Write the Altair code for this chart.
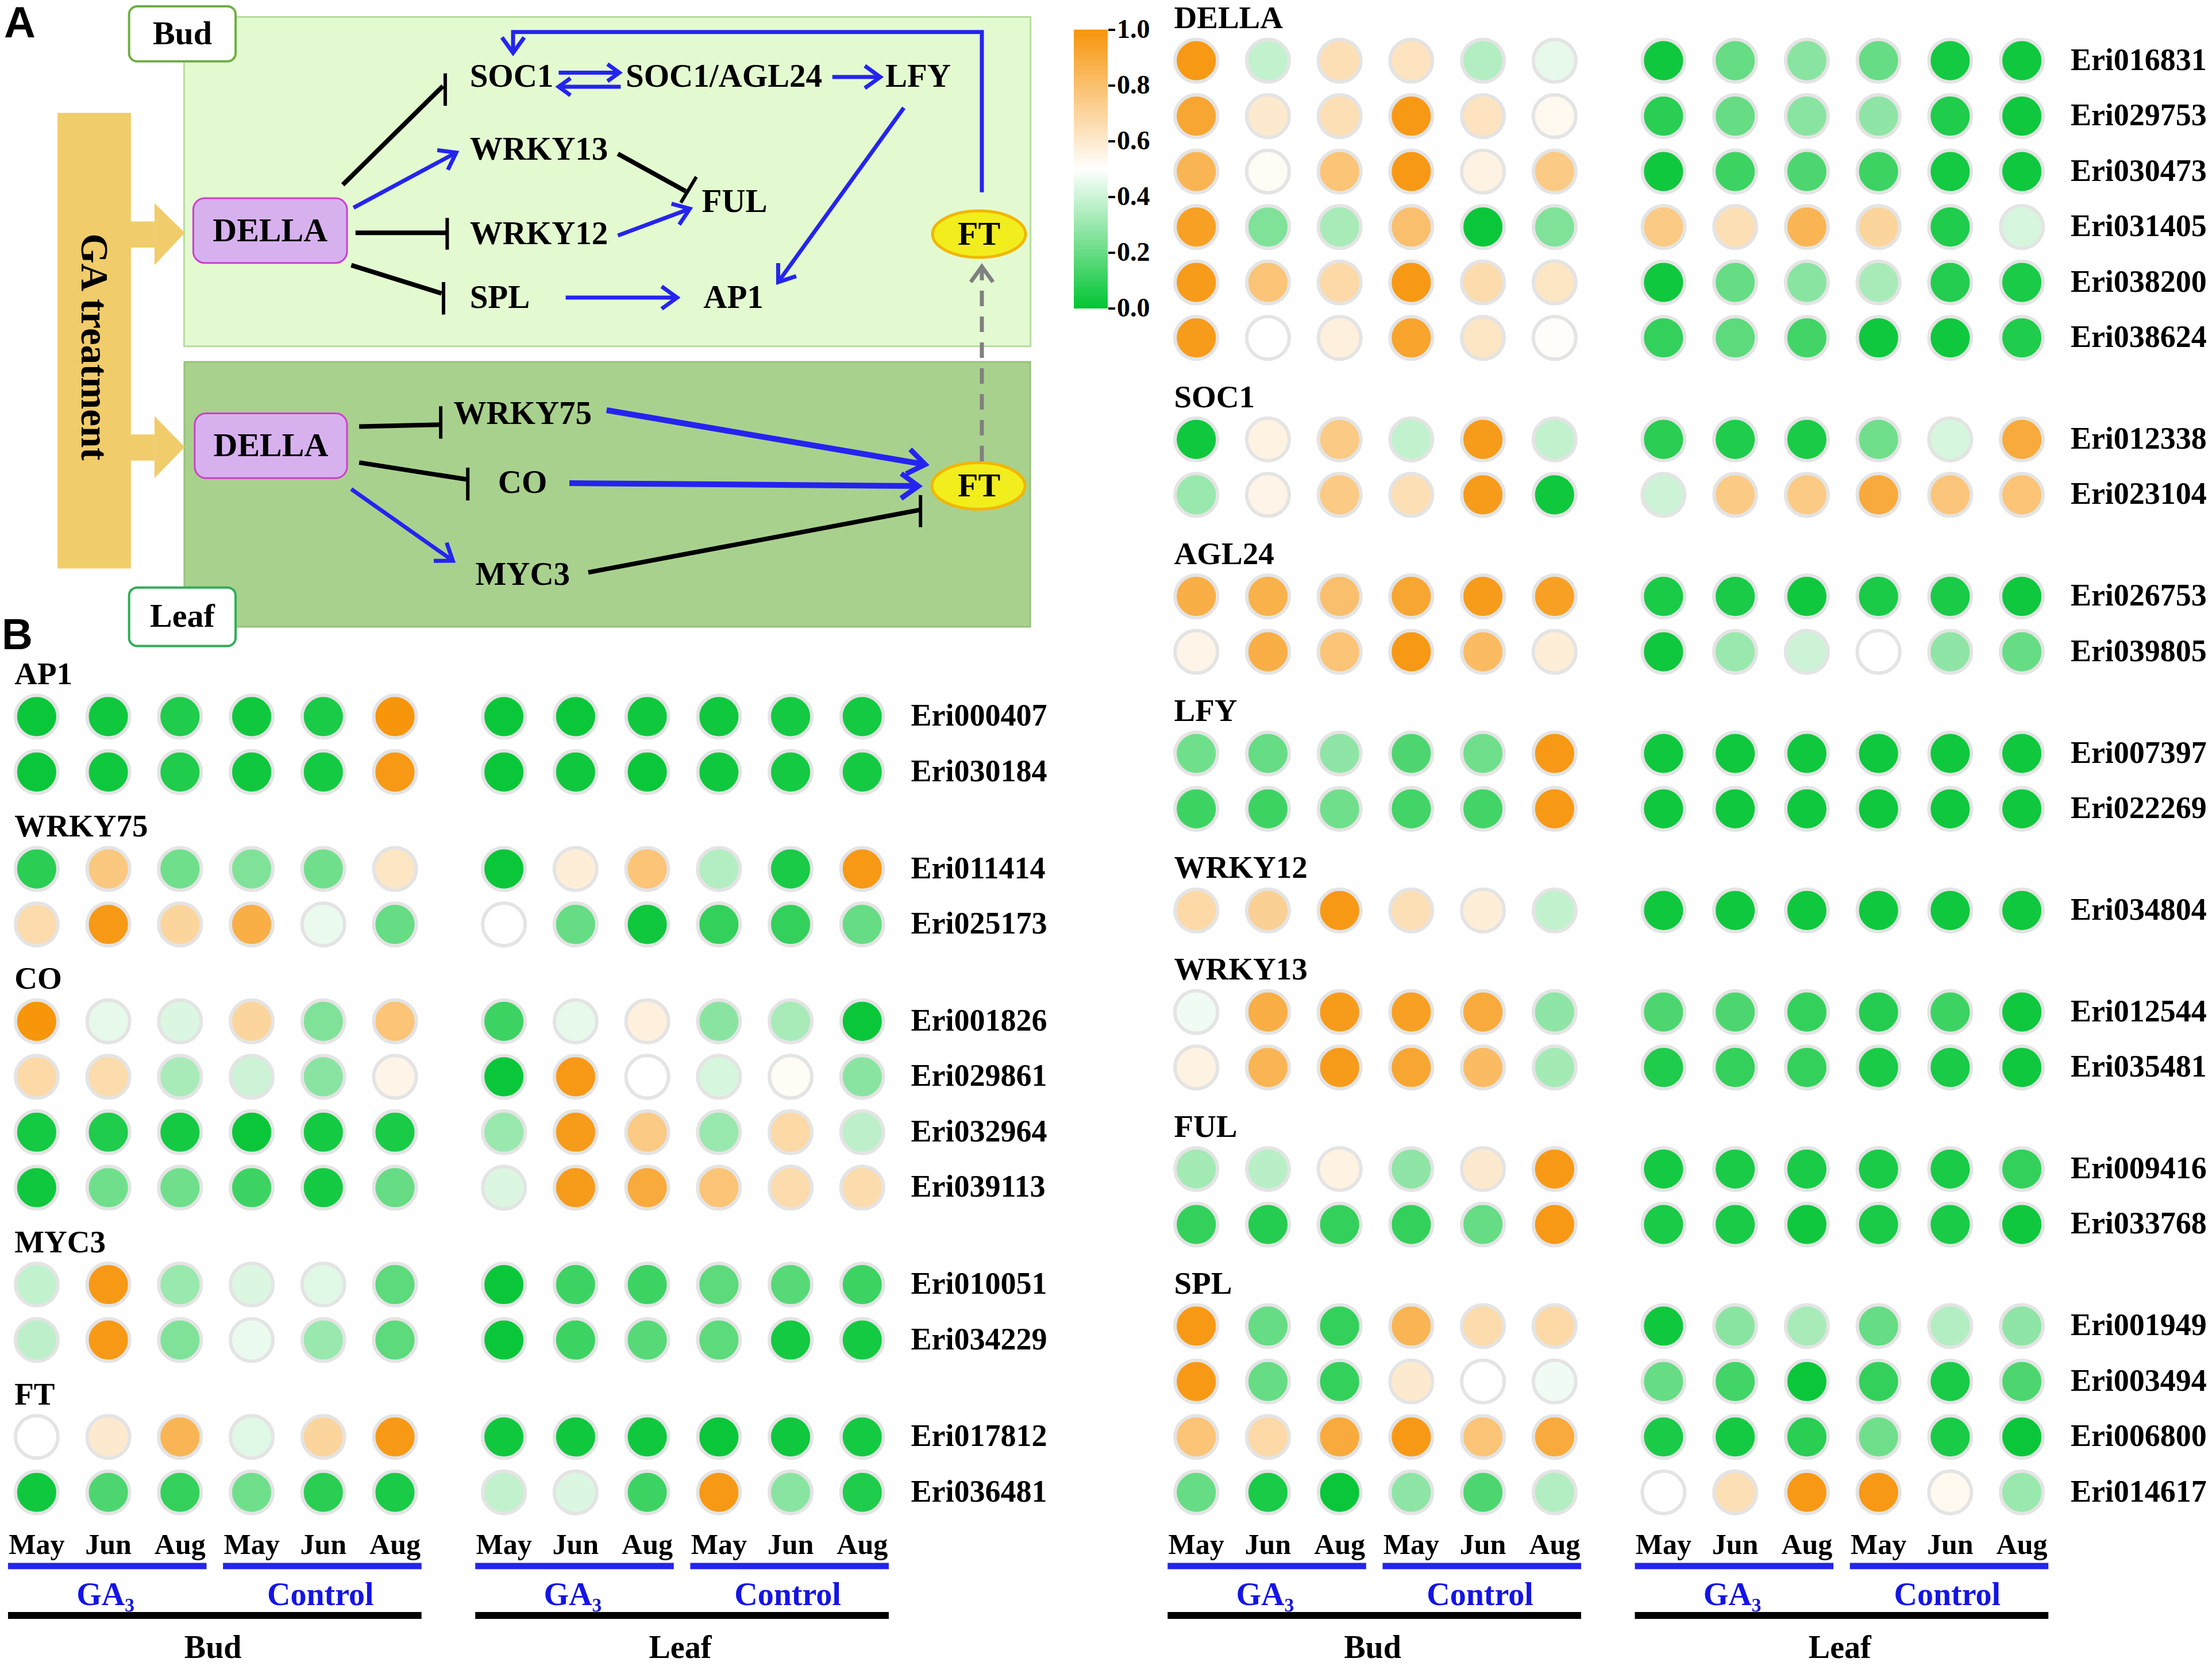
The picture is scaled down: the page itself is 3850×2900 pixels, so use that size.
import math
import altair as alt
import pandas as pd

S = 3850 / 1568                      # page px per reference-thumbnail px
SERIF = "Liberation Serif"
SANS = "Liberation Sans"
GREEN, WHITE, ORANGE = "#00c532", "#ffffff", "#f7950b"
BLUE = "#2424ee"
TBLUE = "#1414e6"

# ------------------------------------------------------------------ data
MONTHS = ["May", "Jun", "Aug"]
TREATMENTS = ["GA₃", "Control"]
TISSUES = ["Bud", "Leaf"]
CBAR_TICKS = [0.0, 0.2, 0.4, 0.6, 0.8, 1.0]
CBAR_LABELS = ["0.0", "0.2", "0.4", "0.6", "0.8", "1.0"]

# columns: Bud GA3 May/Jun/Aug, Bud Control May/Jun/Aug, Leaf GA3 ..., Leaf Control ...
AP1_genes = ["Eri000407", "Eri030184"]
AP1 = [[0.02, 0.03, 0.06, 0.03, 0.05, 1.00, 0.02, 0.02, 0.03, 0.03, 0.04, 0.04],
       [0.02, 0.03, 0.06, 0.03, 0.04, 0.98, 0.02, 0.03, 0.02, 0.03, 0.04, 0.04]]
WRKY75_genes = ["Eri011414", "Eri025173"]
WRKY75 = [[0.08, 0.76, 0.22, 0.25, 0.22, 0.62, 0.02, 0.58, 0.78, 0.35, 0.05, 0.98],
          [0.67, 0.98, 0.70, 0.88, 0.46, 0.20, 0.50, 0.20, 0.03, 0.10, 0.10, 0.20]]
CO_genes = ["Eri001826", "Eri029861", "Eri032964", "Eri039113"]
CO = [[1.00, 0.45, 0.43, 0.70, 0.25, 0.78, 0.12, 0.45, 0.57, 0.27, 0.33, 0.02],
      [0.68, 0.67, 0.33, 0.40, 0.27, 0.55, 0.02, 0.98, 0.50, 0.42, 0.52, 0.27],
      [0.04, 0.06, 0.04, 0.02, 0.04, 0.05, 0.30, 0.97, 0.75, 0.30, 0.68, 0.37],
      [0.03, 0.22, 0.22, 0.12, 0.04, 0.20, 0.43, 0.97, 0.90, 0.78, 0.67, 0.67]]
MYC3_genes = ["Eri010051", "Eri034229"]
MYC3 = [[0.38, 0.98, 0.30, 0.43, 0.44, 0.18, 0.02, 0.12, 0.12, 0.18, 0.17, 0.12],
        [0.37, 0.98, 0.25, 0.46, 0.30, 0.18, 0.02, 0.12, 0.17, 0.18, 0.04, 0.04]]
FT_genes = ["Eri017812", "Eri036481"]
FT = [[0.50, 0.60, 0.85, 0.44, 0.70, 0.98, 0.03, 0.03, 0.03, 0.02, 0.03, 0.04],
      [0.03, 0.15, 0.10, 0.22, 0.08, 0.05, 0.38, 0.43, 0.12, 0.98, 0.27, 0.06]]

DELLA_genes = ["Eri016831", "Eri029753", "Eri030473", "Eri031405", "Eri038200", "Eri038624"]
DELLA = [[0.98, 0.38, 0.65, 0.63, 0.35, 0.45, 0.03, 0.20, 0.27, 0.20, 0.04, 0.03],
         [0.92, 0.60, 0.65, 0.98, 0.63, 0.53, 0.08, 0.20, 0.27, 0.28, 0.06, 0.03],
         [0.85, 0.52, 0.78, 0.98, 0.56, 0.75, 0.03, 0.12, 0.15, 0.12, 0.04, 0.03],
         [0.95, 0.25, 0.33, 0.80, 0.02, 0.25, 0.75, 0.65, 0.85, 0.70, 0.06, 0.42],
         [0.97, 0.78, 0.68, 0.98, 0.67, 0.62, 0.03, 0.20, 0.27, 0.33, 0.07, 0.05],
         [0.97, 0.50, 0.57, 0.93, 0.62, 0.51, 0.10, 0.18, 0.13, 0.03, 0.03, 0.06]]
SOC1_genes = ["Eri012338", "Eri023104"]
SOC1 = [[0.03, 0.56, 0.75, 0.38, 0.97, 0.38, 0.08, 0.06, 0.05, 0.22, 0.42, 0.90],
        [0.30, 0.55, 0.75, 0.65, 0.97, 0.03, 0.40, 0.75, 0.75, 0.90, 0.77, 0.78]]
AGL24_genes = ["Eri026753", "Eri039805"]
AGL24 = [[0.88, 0.87, 0.80, 0.92, 0.97, 0.95, 0.05, 0.05, 0.03, 0.05, 0.05, 0.03],
         [0.55, 0.88, 0.78, 0.98, 0.82, 0.58, 0.03, 0.30, 0.40, 0.50, 0.28, 0.20]]
LFY_genes = ["Eri007397", "Eri022269"]
LFY = [[0.22, 0.20, 0.28, 0.15, 0.22, 0.98, 0.03, 0.03, 0.03, 0.03, 0.03, 0.03],
       [0.12, 0.12, 0.22, 0.13, 0.13, 0.98, 0.03, 0.03, 0.03, 0.03, 0.03, 0.03]]
WRKY12_genes = ["Eri034804"]
WRKY12 = [[0.68, 0.72, 0.98, 0.65, 0.58, 0.38, 0.03, 0.03, 0.03, 0.03, 0.03, 0.03]]
WRKY13_genes = ["Eri012544", "Eri035481"]
WRKY13 = [[0.47, 0.88, 0.97, 0.95, 0.90, 0.28, 0.15, 0.15, 0.10, 0.07, 0.12, 0.03],
          [0.56, 0.85, 0.97, 0.92, 0.82, 0.32, 0.06, 0.10, 0.10, 0.05, 0.05, 0.03]]
FUL_genes = ["Eri009416", "Eri033768"]
FUL = [[0.32, 0.36, 0.56, 0.28, 0.60, 0.98, 0.04, 0.05, 0.05, 0.05, 0.05, 0.10],
       [0.10, 0.07, 0.10, 0.10, 0.20, 0.98, 0.05, 0.05, 0.03, 0.05, 0.05, 0.03]]
SPL_genes = ["Eri001949", "Eri003494", "Eri006800", "Eri014617"]
SPL = [[0.98, 0.20, 0.10, 0.85, 0.67, 0.68, 0.03, 0.27, 0.33, 0.20, 0.35, 0.28],
       [0.98, 0.20, 0.10, 0.60, 0.50, 0.47, 0.20, 0.13, 0.02, 0.10, 0.05, 0.15],
       [0.78, 0.68, 0.90, 0.98, 0.78, 0.90, 0.05, 0.04, 0.08, 0.22, 0.05, 0.02],
       [0.20, 0.05, 0.02, 0.28, 0.15, 0.35, 0.50, 0.65, 0.98, 0.98, 0.53, 0.30]]

LEFT_GROUPS = [("AP1", AP1_genes, AP1), ("WRKY75", WRKY75_genes, WRKY75),
               ("CO", CO_genes, CO), ("MYC3", MYC3_genes, MYC3), ("FT", FT_genes, FT)]
RIGHT_GROUPS = [("DELLA", DELLA_genes, DELLA), ("SOC1", SOC1_genes, SOC1),
                ("AGL24", AGL24_genes, AGL24), ("LFY", LFY_genes, LFY),
                ("WRKY12", WRKY12_genes, WRKY12), ("WRKY13", WRKY13_genes, WRKY13),
                ("FUL", FUL_genes, FUL), ("SPL", SPL_genes, SPL)]

# ------------------------------------------------------------------ layout
W, H = 3834, 2884            # whole drawing (page minus 8px margin)
STEP_X = 50.8 * S
STEP_Y = 39.3 * S
LEAF_SHIFT = 0.52

COLOR = alt.Color("v:Q", legend=None,
                  scale=alt.Scale(domain=[0, 0.5, 1], range=[GREEN, WHITE, ORANGE],
                                  interpolate="rgb"))


def lin(dom, rev=False):
    if rev:
        return alt.Scale(domain=dom, nice=False, zero=False, reverse=True)
    return alt.Scale(domain=dom, nice=False, zero=False)


def col_pos(j):
    return j + (LEAF_SHIFT if j >= 6 else 0.0)


def heat(groups, col0, row0, gap):
    """col0/row0: page-pixel centre of the first dot."""
    c0, r0 = col0 - 8, row0 - 8
    xs = lin([-c0 / STEP_X, (W - c0) / STEP_X])
    ys = lin([-r0 / STEP_Y, (H - r0) / STEP_Y], rev=True)
    X = lambda f: alt.X(f, type="quantitative", scale=xs, axis=None)
    Y = lambda f: alt.Y(f, type="quantitative", scale=ys, axis=None)

    dots, labels, heads = [], [], []
    r = 0
    for k, (name, genes, vals) in enumerate(groups):
        heads.append({"x": -0.31, "y": r + gap * k - 0.76, "t": name})
        for gene, row in zip(genes, vals):
            yy = r + gap * k
            for j, v in enumerate(row):
                dots.append({"x": col_pos(j), "y": yy, "v": v})
            labels.append({"x": 12.2, "y": yy, "t": gene})
            r += 1
    last = (r - 1) + gap * (len(groups) - 1)

    months, blines, tlabs, klines, klabs = [], [], [], [], []
    for t in range(2):
        for tr in range(2):
            base = t * 6 + tr * 3
            for m in range(3):
                months.append({"x": col_pos(base + m), "y": last + 0.96, "t": MONTHS[m]})
            blines.append({"x0": col_pos(base) - 0.40, "x1": col_pos(base + 2) + 0.37,
                           "y": last + 1.33})
            tlabs.append({"x": col_pos(base + 1) - 0.04, "y": last + 1.855,
                          "t": TREATMENTS[tr]})
        klines.append({"x0": col_pos(t * 6) - 0.40, "x1": col_pos(t * 6 + 5) + 0.37,
                       "y": last + 2.22})
        klabs.append({"x": (col_pos(t * 6) + col_pos(t * 6 + 5)) / 2 - 0.04,
                      "y": last + 2.81, "t": TISSUES[t]})

    txt = dict(font=SERIF, fontWeight="bold", baseline="middle")
    layers = [
        alt.Chart(pd.DataFrame(dots)).mark_circle(
            size=5500, opacity=1, stroke="#e4e4e4", strokeWidth=6
        ).encode(x=X("x"), y=Y("y"), color=COLOR),
        alt.Chart(pd.DataFrame(labels)).mark_text(align="left", fontSize=54, **txt)
        .encode(x=X("x"), y=Y("y"), text="t:N"),
        alt.Chart(pd.DataFrame(heads)).mark_text(align="left", fontSize=55, **txt)
        .encode(x=X("x"), y=Y("y"), text="t:N"),
        alt.Chart(pd.DataFrame(months)).mark_text(align="center", fontSize=50, **txt)
        .encode(x=X("x"), y=Y("y"), text="t:N"),
        alt.Chart(pd.DataFrame(blines)).mark_rule(color=BLUE, strokeWidth=11, strokeCap="butt")
        .encode(x=X("x0"), x2="x1", y=Y("y")),
        alt.Chart(pd.DataFrame(tlabs)).mark_text(align="center", fontSize=56, color=TBLUE, **txt)
        .encode(x=X("x"), y=Y("y"), text="t:N"),
        alt.Chart(pd.DataFrame(klines)).mark_rule(color="black", strokeWidth=12, strokeCap="butt")
        .encode(x=X("x0"), x2="x1", y=Y("y")),
        alt.Chart(pd.DataFrame(klabs)).mark_text(align="center", fontSize=56, **txt)
        .encode(x=X("x"), y=Y("y"), text="t:N"),
    ]
    return alt.layer(*layers)


left_heat = heat(LEFT_GROUPS, 26 * S, 508 * S, ((1058 - 508) / 39.3 - 11) / 4)
right_heat = heat(RIGHT_GROUPS, 848 * S, 43 * S, ((1058 - 43) / 39.3 - 20) / 7)

# ------------------------------------------------------------------ colour bar
top_px, bot_px = 52 - 8, 537 - 8            # drawing px of 1.0 and 0.0
slope = bot_px - top_px
cys = lin([-(H - bot_px) / slope, 1 + top_px / slope])
CB_X0, CB_X1 = 1869 - 8, 1928 - 8
cb_rows = [{"v0": i / 200, "v1": i / 200 + 0.0062, "v": i / 200 + 0.0025} for i in range(200)]
cbar = alt.layer(
    alt.Chart(pd.DataFrame(cb_rows)).mark_rect().encode(
        x=alt.value(CB_X0), x2=alt.value(CB_X1),
        y=alt.Y("v0:Q", scale=cys, axis=None), y2="v1:Q", color=COLOR),
    alt.Chart(pd.DataFrame({"t": CBAR_TICKS})).mark_rule(color="black", strokeWidth=4).encode(
        x=alt.value(CB_X1 + 1), x2=alt.value(CB_X1 + 13), y=alt.Y("t:Q", scale=cys, axis=None)),
    alt.Chart(pd.DataFrame({"t": CBAR_TICKS, "lab": CBAR_LABELS})).mark_text(
        font=SERIF, fontWeight="bold", fontSize=46, align="left", baseline="middle").encode(
        x=alt.value(CB_X1 + 16), y=alt.Y("t:Q", scale=cys, axis=None), text="lab:N"),
)

# ------------------------------------------------------------------ panel A diagram
DXS = lin([8 / S, (8 + W) / S])
DYS = lin([8 / S, (8 + H) / S], rev=True)
DX = lambda f: alt.X(f, type="quantitative", scale=DXS, axis=None)
DY = lambda f: alt.Y(f, type="quantitative", scale=DYS, axis=None)

BOXES = {  # name: (x0, x1, y0, y1) in reference-thumbnail px
    "bud_bg": (130.5, 730.5, 12, 245.5),
    "leaf_bg": (130.7, 730.3, 256.6, 444.3),
    "ga_bar": (40.8, 92.8, 80, 403),
    "shaft1": (92.0, 109.5, 157, 175.5),
    "shaft2": (92.0, 109.5, 308, 326.5),
    "bud_tag": (91.5, 167, 4.5, 43.5),
    "leaf_tag": (91.5, 167, 416.5, 458),
    "della_bud": (137, 246, 140.5, 186.4),
    "della_leaf": (138, 246, 293, 339),
}
BOX_STYLE = {
    "bud_bg": dict(fill="#e3fad1", stroke="#b7dc9e", strokeWidth=3),
    "leaf_bg": dict(fill="#a9d18e", stroke="#97c27b", strokeWidth=3),
    "ga_bar": dict(fill="#f1cc6b"),
    "shaft1": dict(fill="#f1cc6b"),
    "shaft2": dict(fill="#f1cc6b"),
    "bud_tag": dict(fill="white", stroke="#6fae45", strokeWidth=4, cornerRadius=14),
    "leaf_tag": dict(fill="white", stroke="#2fae57", strokeWidth=4, cornerRadius=14),
    "della_bud": dict(fill="#d7b1ee", stroke="#cc3fcc", strokeWidth=3, cornerRadius=20),
    "della_leaf": dict(fill="#d7b1ee", stroke="#cc3fcc", strokeWidth=3, cornerRadius=20),
}
HEADS = [  # gold block-arrow heads: (id, x, y_top, y_bottom)
    (1, 109.5, 144, 188), (1, 131, 165, 165),
    (2, 109.5, 295, 339), (2, 131, 317, 317),
]
ELLIPSES = [(694, 166), (693.6, 344.5)]
NODES_LEFT = [("SOC1", 333, 54.5), ("SOC1/AGL24", 443.5, 54.5), ("LFY", 627.6, 54.5),
              ("WRKY13", 333, 106.5), ("FUL", 497.5, 143.5), ("WRKY12", 333, 166),
              ("SPL", 333, 211.5), ("AP1", 498.6, 211.5), ("WRKY75", 321.5, 293.5),
              ("CO", 353, 342.5), ("MYC3", 337, 407.5)]
NODES_CENTER = [("DELLA", 191.5, 164), ("DELLA", 192, 316.5), ("FT", 694, 166.5),
                ("FT", 694, 345), ("Bud", 129.3, 24.5), ("Leaf", 129.3, 437.5)]
ACT = {  # blue activating arrows (polyline points)
    "della_wrky13": [(250.6, 147.3), (323.4, 108.2)],
    "wrky12_ful": [(438, 167), (489, 148)],
    "spl_ap1": [(401, 211), (480, 211)],
    "soc_fwd": [(396, 51.5), (439, 51.5)],
    "soc_back": [(440, 61.5), (396, 61.5)],
    "agl_lfy": [(590, 54.6), (624, 54.6)],
    "lfy_ap1": [(640.7, 76.4), (551.6, 200)],
    "ft_soc1": [(696, 136.3), (696, 22.7), (363.7, 22.7), (363.7, 37.5)],
    "della_myc3": [(249, 346.7), (321, 397.5)],
}
ACT_THICK = {
    "wrky75_ft": [(430, 290.8), (655.8, 329.3)],
    "co_ft": [(403.6, 342.5), (651, 344.6)],
}
SIGNAL = {"ft_ft": [(696, 327), (696, 189)]}
INH = {  # black inhibition lines and their bars
    "della_soc1": ([(243, 131), (314, 61)], [(315.6, 52), (315.6, 75)]),
    "della_wrky12": ([(252, 165), (317, 165)], [(317, 154.5), (317, 177)]),
    "della_spl": ([(249, 188), (313, 208)], [(314.4, 200), (314.4, 223)]),
    "wrky13_ful": ([(438, 109), (486, 135.5)], [(493.6, 125.4), (482.6, 143.7)]),
    "della_wrky75": ([(254.6, 302.4), (312.4, 301)], [(312.4, 288), (312.4, 311)]),
    "della_co": ([(254.6, 327.9), (331.6, 340)], [(331.6, 331.5), (331.6, 354.8)]),
    "myc3_ft": ([(417, 405.8), (652.5, 361.4)], [(652.5, 351), (652.5, 373.7)]),
}
HEAD_SIZE = {"soc_fwd": 1700, "soc_back": 1700, "wrky75_ft": 3600, "co_ft": 3600}

CHEVRON = "M-1,-0.72L0,0L-1,0.72"
ELLIPSE = ("M-1,0C-1,-0.276,-0.552,-0.5,0,-0.5C0.552,-0.5,1,-0.276,1,0"
           "C1,0.276,0.552,0.5,0,0.5C-0.552,0.5,-1,0.276,-1,0Z")


def poly_df(d):
    rows = []
    for name, pts in d.items():
        for k, (x, y) in enumerate(pts):
            rows.append({"id": name, "k": k, "x": x, "y": y})
    return pd.DataFrame(rows)


def head_df(d, default=2900):
    rows = []
    for name, pts in d.items():
        (x1, y1), (x2, y2) = pts[-2], pts[-1]
        ang = math.degrees(math.atan2(y2 - y1, x2 - x1)) % 360
        rows.append({"x": x2, "y": y2, "a": ang, "s": HEAD_SIZE.get(name, default)})
    return pd.DataFrame(rows)


def lines(d, color, width, dash=None):
    kw = dict(color=color, strokeWidth=width, strokeCap="butt", strokeJoin="miter")
    if dash:
        kw["strokeDash"] = dash
    return alt.Chart(poly_df(d)).mark_line(**kw).encode(
        x=DX("x"), y=DY("y"), detail="id:N", order="k:Q")


def heads(d, color, width, default=2900):
    return alt.Chart(head_df(d, default)).mark_point(
        shape=CHEVRON, filled=False, opacity=1, stroke=color, strokeWidth=width,
        strokeJoin="miter").encode(
        x=DX("x"), y=DY("y"), angle=alt.Angle("a:Q", scale=None),
        size=alt.Size("s:Q", scale=None))


def box_layer(name):
    x0, x1, y0, y1 = BOXES[name]
    return (alt.Chart(pd.DataFrame([{"x0": x0, "x1": x1, "y0": y0, "y1": y1}]))
            .mark_rect(**BOX_STYLE[name])
            .encode(x=DX("x0"), x2="x1", y=DY("y0"), y2="y1"))


dlayers = [box_layer(n) for n in ["bud_bg", "leaf_bg", "ga_bar", "shaft1", "shaft2"]]
dlayers.append(alt.Chart(pd.DataFrame(HEADS, columns=["id", "x", "y", "y2"]))
               .mark_area(color="#f1cc6b", opacity=1)
               .encode(x=DX("x"), y=DY("y"), y2="y2", detail="id:N"))
dlayers += [box_layer(n) for n in ["bud_tag", "leaf_tag", "della_bud", "della_leaf"]]
dlayers.append(alt.Chart(pd.DataFrame(ELLIPSES, columns=["x", "y"])).mark_point(
    shape=ELLIPSE, filled=True, opacity=1, fill="#f2ee1d", stroke="#f2b600",
    strokeWidth=5, size=26244).encode(x=DX("x"), y=DY("y")))
dlayers += [
    lines(ACT, BLUE, 7),
    lines(ACT_THICK, BLUE, 10),
    lines(SIGNAL, "#808080", 7, dash=[27, 18]),
    lines({k: v[0] for k, v in INH.items()}, "black", 8),
    lines({k: v[1] for k, v in INH.items()}, "black", 6),
    heads(ACT, BLUE, 7),
    heads(ACT_THICK, BLUE, 9),
    heads(SIGNAL, "#808080", 7),
]
dtxt = dict(font=SERIF, fontWeight="bold", baseline="middle", color="black")
dlayers += [
    alt.Chart(pd.DataFrame(NODES_LEFT, columns=["t", "x", "y"])).mark_text(
        align="left", fontSize=57, **dtxt).encode(x=DX("x"), y=DY("y"), text="t:N"),
    alt.Chart(pd.DataFrame(NODES_CENTER, columns=["t", "x", "y"])).mark_text(
        align="center", fontSize=58, **dtxt).encode(x=DX("x"), y=DY("y"), text="t:N"),
    alt.Chart(pd.DataFrame([{"t": "GA treatment", "x": 66, "y": 246}])).mark_text(
        align="center", fontSize=67, angle=90, **dtxt).encode(x=DX("x"), y=DY("y"), text="t:N"),
    alt.Chart(pd.DataFrame([{"t": "A", "x": 14, "y": 17}, {"t": "B", "x": 12, "y": 451}]))
    .mark_text(font=SANS, fontWeight="bold", fontSize=76, align="center", baseline="middle",
               color="black").encode(x=DX("x"), y=DY("y"), text="t:N"),
]
diagram = alt.layer(*dlayers)

# ------------------------------------------------------------------ assemble
chart = alt.layer(diagram, left_heat, cbar, right_heat).resolve_scale(
    x="independent", y="independent"
).properties(
    width=W, height=H, padding=0, background="white",
    autosize=alt.AutoSizeParams(type="none"),
).configure_view(stroke=None)

chart.save("out.html", embed_options={"renderer": "svg", "actions": False})
